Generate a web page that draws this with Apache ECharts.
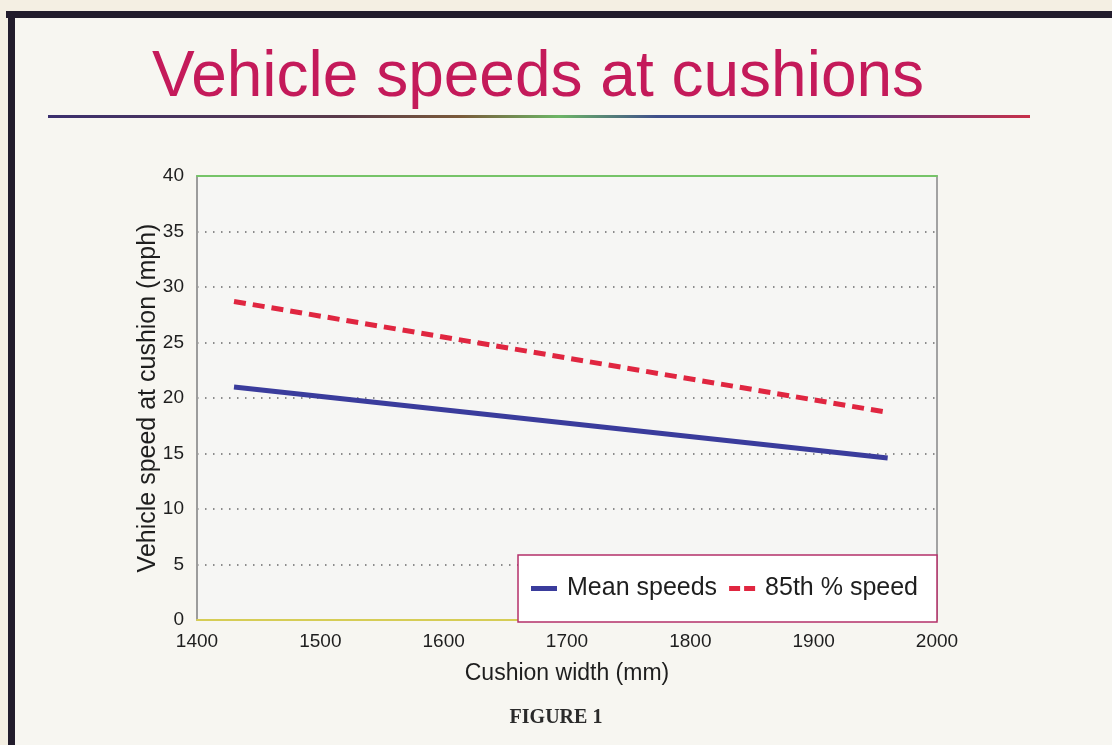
<!DOCTYPE html>
<html>
<head>
<meta charset="utf-8">
<script src="https://cdn.jsdelivr.net/npm/echarts@6/dist/echarts.min.js"></script>
<style>
html,body{margin:0;padding:0;background:#f4efe3;}
#chart{width:1112px;height:745px;}
</style>
</head>
<body>
<div id="chart"></div>
<script>
// ---- data ----
const cushionWidth = [1430, 1960];            // mm
const meanSpeeds = [21.0, 14.6];              // mph
const speed85th = [28.7, 18.7];               // mph
const seriesNames = ['Mean speeds', '85th % speed'];
const titleText = 'Vehicle speeds at cushions';
const xName = 'Cushion width (mm)';
const yName = 'Vehicle speed at cushion (mph)';
const figureCaption = 'FIGURE 1';

const chart = echarts.init(document.getElementById('chart'), null, {renderer: 'canvas'});
const txt = '#1e1e1e';
const font = 'Liberation Sans, Arial, Helvetica, sans-serif';

chart.setOption({
  backgroundColor: '#f4efe3',
  animation: false,
  graphic: [
    {type: 'rect', shape: {x: 8, y: 12, width: 1104, height: 733}, style: {fill: '#f7f6f1'}, z: -10},
    {type: 'rect', shape: {x: 6, y: 11, width: 1106, height: 7}, style: {fill: '#221c2c'}, z: 10},
    {type: 'rect', shape: {x: 8, y: 11, width: 7, height: 734}, style: {fill: '#221c2c'}, z: 10},
    {type: 'rect', shape: {x: 48, y: 115, width: 982, height: 3},
     style: {fill: new echarts.graphic.LinearGradient(0, 0, 1, 0, [
       {offset: 0, color: '#3b2f6e'}, {offset: 0.3, color: '#5a3a4a'},
       {offset: 0.42, color: '#7a5a3a'}, {offset: 0.52, color: '#6cb565'},
       {offset: 0.62, color: '#3f4f8a'}, {offset: 0.8, color: '#4a3a8a'},
       {offset: 1, color: '#c8304a'}])}, z: 10},
    {type: 'text', left: 'center', top: 708,
     style: {text: figureCaption, font: 'bold 20px "Liberation Serif", "Times New Roman", serif', fill: '#2a2a2a'}}
  ],
  title: {
    text: titleText,
    left: 147, top: 41,
    textStyle: {color: '#c41a5a', fontSize: 64, fontWeight: 'normal', fontFamily: font}
  },
  grid: {left: 197, right: 175, top: 176, bottom: 125, show: true, backgroundColor: '#f6f6f4', borderWidth: 0},
  legend: {
    data: [
      {name: seriesNames[0], icon: 'path://M0,0H26V5H0Z'},
      {name: seriesNames[1], icon: 'path://M0,0H11V5H0Z M15,0H26V5H15Z'}
    ],
    right: 175, bottom: 123,
    orient: 'horizontal',
    backgroundColor: '#ffffff',
    borderColor: '#b4306a', borderWidth: 1.5,
    padding: [21, 19, 21, 13],
    itemWidth: 26, itemHeight: 5, itemGap: 12,
    textStyle: {color: txt, fontSize: 25, fontFamily: font, padding: [0, 0, 0, 5]}
  },
  xAxis: [{
    type: 'value', min: 1400, max: 2000, interval: 100,
    position: 'bottom',
    name: xName, nameLocation: 'middle', nameGap: 42, nameMoveOverlap: false,
    nameTextStyle: {color: txt, fontSize: 23, fontFamily: font},
    axisLine: {show: true, onZero: false, lineStyle: {color: '#d6cd55', width: 2}},
    axisTick: {show: false},
    axisLabel: {color: txt, fontSize: 19, fontFamily: font, margin: 12, formatter: v => String(v)},
    splitLine: {show: false}
  }, {
    type: 'value', min: 1400, max: 2000, interval: 100,
    position: 'top',
    axisLine: {show: true, onZero: false, lineStyle: {color: '#76c468', width: 2}},
    axisTick: {show: false}, axisLabel: {show: false}, splitLine: {show: false}
  }],
  yAxis: [{
    type: 'value', min: 0, max: 40, interval: 5,
    position: 'left',
    name: yName, nameLocation: 'middle', nameGap: 36, nameRotate: 90, nameMoveOverlap: false,
    nameTextStyle: {color: txt, fontSize: 25, fontFamily: font},
    axisLine: {show: true, onZero: false, lineStyle: {color: '#9c9c9c', width: 2}},
    axisTick: {show: false},
    axisLabel: {color: txt, fontSize: 19, fontFamily: font, margin: 13},
    splitLine: {show: true, lineStyle: {color: '#6a6a6a', width: 1.5, type: [1.5, 6.5]}}
  }, {
    type: 'value', min: 0, max: 40, interval: 5,
    position: 'right',
    axisLine: {show: true, onZero: false, lineStyle: {color: '#a2a2a2', width: 2}},
    axisTick: {show: false}, axisLabel: {show: false}, splitLine: {show: false}
  }],
  series: [{
    name: seriesNames[0], type: 'line', symbol: 'none',
    data: cushionWidth.map((w, i) => [w, meanSpeeds[i]]),
    lineStyle: {color: '#3a3c9c', width: 5},
    itemStyle: {color: '#3a3c9c'},
    z: 3
  }, {
    name: seriesNames[1], type: 'line', symbol: 'none',
    data: cushionWidth.map((w, i) => [w, speed85th[i]]),
    lineStyle: {color: '#e02640', width: 5, type: [12, 7]},
    itemStyle: {color: '#e02640'},
    z: 3
  }]
});
</script>
</body>
</html>
